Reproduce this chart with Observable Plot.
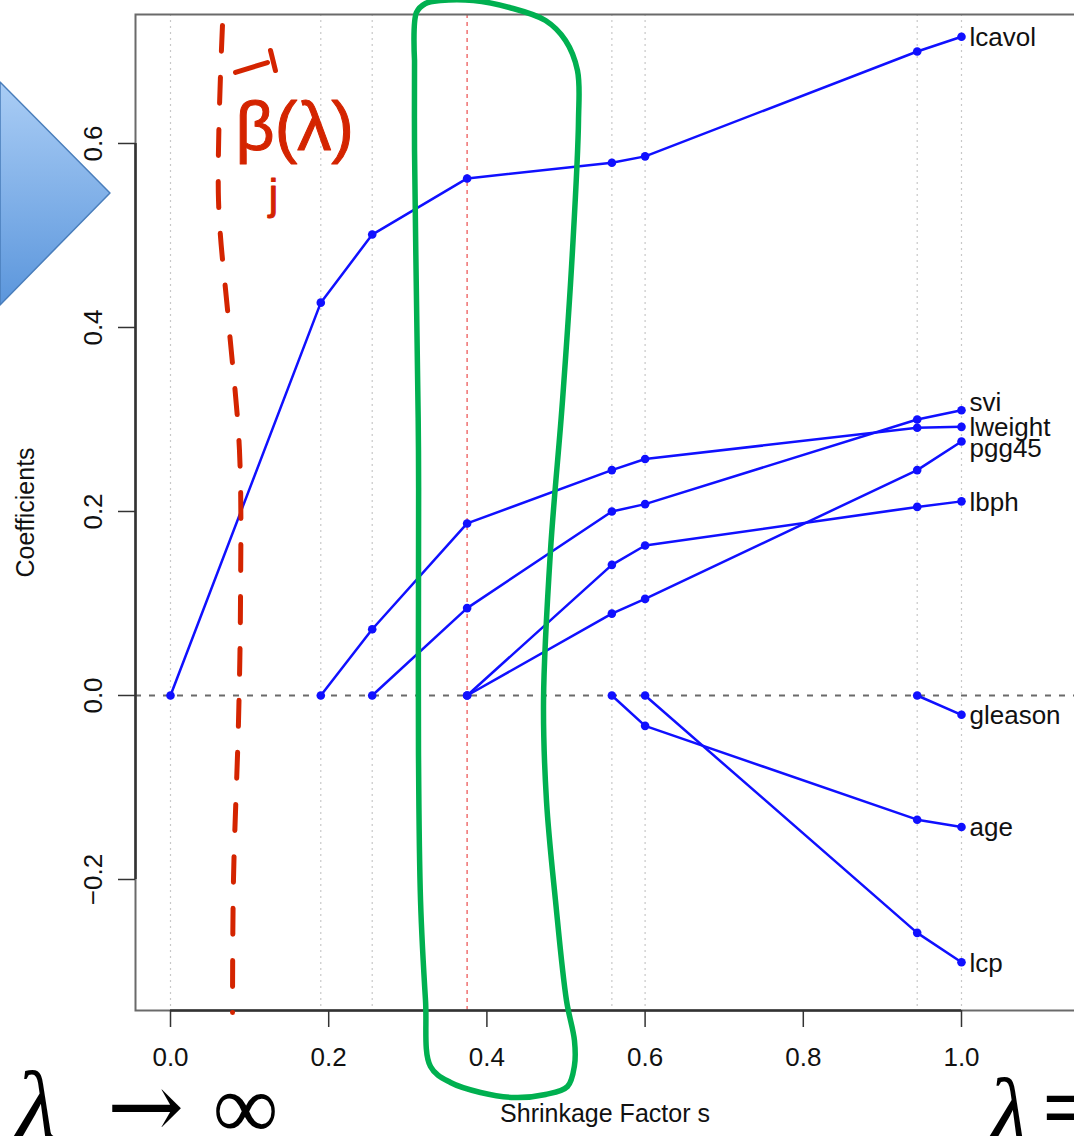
<!DOCTYPE html>
<html>
<head>
<meta charset="utf-8">
<script src="https://cdn.jsdelivr.net/npm/d3@7"></script>
<script src="https://cdn.jsdelivr.net/npm/@observablehq/plot@0.6"></script>
<style>
  html, body { margin: 0; padding: 0; background: white; overflow: hidden; width: 1074px; height: 1136px; }
  #chart svg { max-width: none !important; width: 1100px !important; height: 1136px !important; display: block; }
</style>
</head>
<body>
<div id="chart"></div>
<script>
// ---- Lasso path data ----
const sValues = [0, 0.190, 0.255, 0.375, 0.558, 0.600, 0.944, 1.000];
const lcavol  = [0, 0.427, 0.501, 0.562, 0.579, 0.586, 0.700, 0.716];
const lweight = [null, 0, 0.072, 0.187, 0.245, 0.257, 0.291, 0.292];
const svi     = [null, null, 0, 0.095, 0.200, 0.208, 0.300, 0.310];
const pgg45   = [null, null, null, 0, 0.089, 0.105, 0.245, 0.276];
const lbph    = [null, null, null, 0, 0.142, 0.163, 0.205, 0.211];
const gleason = [null, null, null, null, null, null, 0, -0.021];
const age     = [null, null, null, null, 0, -0.033, -0.135, -0.143];
const lcp     = [null, null, null, null, null, 0, -0.258, -0.290];
const seriesNames = ["lcavol", "svi", "lweight", "pgg45", "lbph", "gleason", "age", "lcp"];
const seriesValues = {lcavol, svi, lweight, pgg45, lbph, gleason, age, lcp};
const selectedS = 0.375;
const xTicks = [0, 0.2, 0.4, 0.6, 0.8, 1.0];
const yTicks = [-0.2, 0, 0.2, 0.4, 0.6];
const xTitle = "Shrinkage Factor s";
const yTitle = "Coefficients";

// ---- Hand-drawn annotations (in data units) ----
const greenLoop = [[0.3085,0.6902],[0.3110,0.7424],[0.3224,0.7522],[0.3413,0.7554],[0.3831,0.7554],[0.4286,0.7478],[0.4741,0.7337],[0.4994,0.7120],[0.5145,0.6793],[0.5158,0.6250],[0.5082,0.4837],[0.4956,0.3207],[0.4804,0.1576],[0.4716,-0.0054],[0.4753,-0.1141],[0.4867,-0.2228],[0.5006,-0.3315],[0.5107,-0.3750],[0.5107,-0.4022],[0.5019,-0.4250],[0.4741,-0.4337],[0.4349,-0.4370],[0.3919,-0.4315],[0.3540,-0.4207],[0.3287,-0.4033],[0.3224,-0.3315],[0.3161,-0.2228],[0.3135,-0.0598],[0.3135,0.1033],[0.3135,0.2663],[0.3110,0.4293],[0.3085,0.5924],[0.3085,0.6902]];
const redDashed = [[0.0657,0.7283],[0.0607,0.5380],[0.0733,0.4076],[0.0872,0.2663],[0.0885,0.1033],[0.0860,-0.0272],[0.0796,-0.2011],[0.0784,-0.3446]];
const redHat = [
  {g: 1, x: 0.0822, y: 0.6772}, {g: 1, x: 0.1226, y: 0.6880},
  {g: 2, x: 0.1264, y: 0.7011}, {g: 2, x: 0.1327, y: 0.6793}
];
const chevron = [{x: -0.2149, top: 0.6663, bottom: 0.4239}, {x: -0.0759, top: 0.5457, bottom: 0.5457}];

// ---- Build long table ----
const rows = [];
for (const name of seriesNames) {
  seriesValues[name].forEach((v, i) => {
    if (v !== null) rows.push({name, s: sValues[i], b: v});
  });
}
const ends = seriesNames.map(name => {
  const vals = seriesValues[name];
  return {name, s: sValues[sValues.length - 1], b: vals[vals.length - 1]};
});
const raisedLabels = ["svi"];
const loweredLabels = ["pgg45"];
const plainLabels = ends.filter(d => !raisedLabels.includes(d.name) && !loweredLabels.includes(d.name));

const xDomain = [-0.04425, 1.16309];
const yDomain = [-0.3424, 0.7402];
const blue = "#1010ff";
const labelOpts = {x: "s", y: "b", text: "name", dx: 8, textAnchor: "start", fontSize: 26, fill: "#111"};

const svg = Plot.plot({
  width: 1100,
  height: 1136,
  marginLeft: 135,
  marginRight: 10,
  marginTop: 14,
  marginBottom: 126,
  x: {domain: xDomain},
  y: {domain: yDomain},
  style: {fontFamily: "'Liberation Sans', Arial, Helvetica, sans-serif", fontSize: "25px", color: "#111", background: "white", overflow: "visible"},
  marks: [
    // knot guide lines
    Plot.ruleX(sValues.filter(s => s !== selectedS), {stroke: "#c8c8c8", strokeDasharray: "2,4", strokeWidth: 1.2}),
    Plot.ruleX([selectedS], {stroke: "#f07a7a", strokeDasharray: "4,4", strokeWidth: 1.6}),
    Plot.ruleY([0], {stroke: "#6a6a6a", strokeDasharray: "6,8", strokeWidth: 2.2}),
    // frame and axis lines
    Plot.frame({stroke: "#6a6a6a", strokeWidth: 2}),
    Plot.ruleY([yDomain[0]], {x1: xTicks[0], x2: xTicks[xTicks.length - 1], stroke: "#333", strokeWidth: 2.5}),
    Plot.ruleX([xDomain[0]], {y1: yTicks[0], y2: yTicks[yTicks.length - 1], stroke: "#333", strokeWidth: 2.5}),
    Plot.axisX(xTicks, {tickSize: 17, tickPadding: 20, tickFormat: d3.format(".1f"), stroke: "#333", strokeWidth: 1.5, fontSize: 26, label: null}),
    Plot.axisY(yTicks, {tickSize: 17, tickPadding: 17, tickRotate: -90, tickFormat: d3.format(".1f"), stroke: "#333", strokeWidth: 1.5, fontSize: 26, label: null}),
    Plot.text([xTitle], {frameAnchor: "bottom", text: d => d, dy: 111, dx: -8, textAnchor: "middle", fontSize: 25}),
    Plot.text([yTitle], {frameAnchor: "left", text: d => d, dx: -110, rotate: -90, textAnchor: "middle", fontSize: 25}),
    // coefficient paths
    Plot.line(rows, {x: "s", y: "b", z: "name", stroke: blue, strokeWidth: 2.5}),
    Plot.dot(rows, {x: "s", y: "b", r: 4.3, fill: blue, stroke: "none"}),
    Plot.text(plainLabels, {...labelOpts, dy: 1}),
    Plot.text(ends.filter(d => raisedLabels.includes(d.name)), {...labelOpts, dy: -8}),
    Plot.text(ends.filter(d => loweredLabels.includes(d.name)), {...labelOpts, dy: 7}),
    // annotations
    Plot.areaY(chevron, {x: "x", y1: "top", y2: "bottom", fill: "url(#chevGrad)", stroke: "#4a7ebb", strokeWidth: 1.5}),
    Plot.line(redDashed, {x: d => d[0], y: d => d[1], curve: "catmull-rom", stroke: "#d42400", strokeWidth: 5, strokeDasharray: "26,26", strokeLinecap: "round"}),
    Plot.line(redHat, {x: "x", y: "y", z: "g", stroke: "#d42400", strokeWidth: 5, strokeLinecap: "round"}),
    Plot.text(["β(λ)"], {x: () => 0.0822, y: () => 0.6163, text: d => d, textAnchor: "start", fontSize: 68, fill: "#d42400", stroke: "#d42400", strokeWidth: 1}),
    Plot.text(["j"], {x: () => 0.1302, y: () => 0.5435, text: d => d, fontSize: 42, fill: "#d42400", stroke: "#d42400", strokeWidth: 1}),
    Plot.line(greenLoop, {x: d => d[0], y: d => d[1], curve: "catmull-rom", stroke: "#00b050", strokeWidth: 5.5, strokeLinejoin: "round"}),
    Plot.text(["λ"], {x: () => -0.1694, y: () => -0.4815, text: d => d, lineAnchor: "bottom", fontSize: 98, fontStyle: "italic", fontFamily: "'Liberation Serif', 'DejaVu Serif', serif", fill: "#000"}),
    Plot.text(["→"], {x: () => -0.0316, y: () => -0.4815, text: d => d, lineAnchor: "bottom", fontSize: 92, fontFamily: "'DejaVu Serif', serif", fill: "#000"}),
    Plot.text(["∞"], {x: () => 0.0948, y: () => -0.4815, text: d => d, lineAnchor: "bottom", fontSize: 92, fontFamily: "'Liberation Serif', 'DejaVu Serif', serif", fill: "#000"}),
    Plot.text(["λ"], {x: () => 1.0594, y: () => -0.4870, text: d => d, lineAnchor: "bottom", fontSize: 96, fontStyle: "italic", fontFamily: "'Liberation Serif', 'DejaVu Serif', serif", fill: "#000"}),
    Plot.text(["="], {x: () => 1.1353, y: () => -0.4815, text: d => d, lineAnchor: "bottom", fontSize: 92, fontWeight: "bold", fontFamily: "'Liberation Serif', 'DejaVu Serif', serif", fill: "#000"})
  ]
});

// gradient for the chevron
const defs = d3.select(svg).insert("defs", ":first-child");
const grad = defs.append("linearGradient").attr("id", "chevGrad").attr("x1", 0).attr("y1", 0).attr("x2", 0).attr("y2", 1);
grad.append("stop").attr("offset", "0%").attr("stop-color", "#aacdf5");
grad.append("stop").attr("offset", "100%").attr("stop-color", "#5b96dc");

svg.style.maxWidth = "none";
document.getElementById("chart").appendChild(svg);
</script>
</body>
</html>
